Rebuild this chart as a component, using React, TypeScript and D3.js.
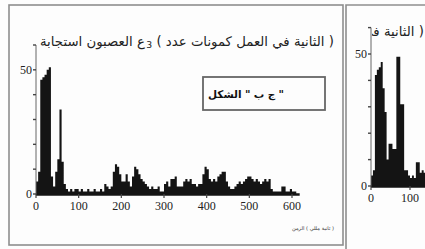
import * as d3 from "d3";
import { useEffect, useRef } from "react";

// spikes per 5 ms bin
const binMs = 5;
const mainCounts = [
  5, 9, 46, 47, 48, 50, 51, 7, 3, 9, 14, 34, 13, 4, 2, 1, 2, 1, 2, 2,
  1, 2, 1, 1, 2, 1, 1, 2, 1, 1, 2, 1, 4, 3, 2, 3, 9, 12, 11, 8,
  5, 5, 8, 5, 3, 7, 11, 10, 8, 6, 5, 4, 3, 2, 3, 2, 2, 3, 1, 1,
  4, 5, 3, 6, 6, 7, 3, 3, 3, 5, 6, 5, 6, 4, 4, 3, 4, 4, 8, 11,
  10, 6, 5, 6, 5, 7, 8, 9, 9, 5, 3, 2, 2, 3, 4, 5, 4, 5, 6, 7,
  7, 6, 5, 6, 5, 4, 5, 6, 5, 6, 2, 1, 1, 1, 1, 3, 3, 1, 1, 2,
  1, 1,
];
const insetCounts = [
  4, 6, 42, 44, 45, 47, 37, 28, 10, 16, 16, 14, 14, 49, 49, 31, 31, 6, 6, 4,
  3, 4, 3, 9, 9, 5, 6, 5, 4,
];
const xTicks = [0, 100, 200, 300, 400, 500, 600];
const insetXTicks = [0, 100];
const yTicks = [0, 10, 20, 30, 40, 50, 60];
const yLabels = [0, 50];

// words in the order they are printed, left to right ("_" = subscript)
const titleWords = ["استجابة", "العصبون", "ع", "_3", "(", "عدد", "كمونات", "العمل", "في", "الثانية", ")"];
const insetTitleWords = ["في", "الثانية", ")"];
const figWords = ["الشكل", "\"", "ب", "ج", "\""];
const xLabelWords = ["الزمن", "(", "مللي", "ثانية", ")"];

type Sel = d3.Selection<SVGGElement, unknown, null, undefined>;

export default function App() {
  const ref = useRef<SVGSVGElement>(null);

  useEffect(() => {
    if (!ref.current) return;
    const svg = d3.select(ref.current);
    svg.selectAll("*").remove();

    const W = 425;
    const H = 249;
    const ink = "#141414";
    const frame = "#8e8e8e";
    const serif = "'Liberation Serif', 'Times New Roman', serif";
    const arabic = "'DejaVu Sans', sans-serif";

    svg.append("rect").attr("width", W).attr("height", H).attr("fill", "#fdfdfd");

    const defs = svg.append("defs");
    defs.append("clipPath").attr("id", "insetClip")
      .append("rect").attr("x", 372).attr("y", 0).attr("width", W - 372).attr("height", H);

    // scan frames
    svg.append("rect")
      .attr("x", 9).attr("y", 5).attr("width", 334).attr("height", 240)
      .attr("fill", "none").attr("stroke", frame).attr("stroke-width", 1.6);
    svg.append("path")
      .attr("d", `M346,${H} V5 H${W}`)
      .attr("fill", "none").attr("stroke", frame).attr("stroke-width", 1.6);

    // lay words out one by one so the printed left-to-right order is kept
    const wordRow = (
      parent: Sel,
      words: string[],
      opts: { x: number; y: number; width?: number; scale?: number; size: number; anchor?: "start" | "end"; weight?: number; fill?: string },
    ) => {
      const g = parent.append("g");
      const items = words.map(w => {
        const sub = w.startsWith("_");
        const t = g.append("text")
          .attr("font-family", arabic)
          .attr("font-weight", opts.weight ?? 400)
          .attr("fill", opts.fill ?? "#222")
          .attr("font-size", sub ? opts.size * 0.7 : opts.size)
          .text(sub ? w.slice(1) : w);
        return { t, sub, w: t.node()!.getComputedTextLength() };
      });
      const gap = opts.size * 0.32;
      const subGap = opts.size * 0.1;
      const total = d3.sum(items, (d, i) => d.w + (i > 0 ? (d.sub ? subGap : gap) : 0));
      const k = opts.scale ?? (opts.width ? opts.width / total : 1);
      let cx = opts.anchor === "end" ? opts.x - total * k : opts.x;
      items.forEach((d, i) => {
        if (i > 0) cx += (d.sub ? subGap : gap) * k;
        d.t.attr("font-size", (d.sub ? opts.size * 0.7 : opts.size) * k)
          .attr("x", cx)
          .attr("y", opts.y + (d.sub ? 2 : 0));
        cx += d.w * k;
      });
      return { g, k };
    };

    const drawPanel = (
      counts: number[],
      x: d3.ScaleLinear<number, number>,
      y: d3.ScaleLinear<number, number>,
      ticks: number[],
      xEnd: number,
    ) => {
      const g = svg.append("g");
      const pts = counts.map((v, i) => ({ t: i * binMs, v }));
      pts.push({ t: counts.length * binMs, v: counts[counts.length - 1] });

      const area = d3.area<{ t: number; v: number }>()
        .x(d => x(d.t))
        .y0(y(0))
        .y1(d => y(d.v))
        .curve(d3.curveStepAfter);

      g.append("path").attr("d", area(pts)).attr("fill", ink);

      // axis base line
      g.append("line")
        .attr("x1", x(0)).attr("x2", x(xEnd))
        .attr("y1", y(0) + 0.5).attr("y2", y(0) + 0.5)
        .attr("stroke", ink).attr("stroke-width", 2.4);

      // y axis
      g.append("line")
        .attr("x1", x(0)).attr("x2", x(0))
        .attr("y1", y(0)).attr("y2", y(60))
        .attr("stroke", "#666").attr("stroke-width", 1);
      g.selectAll(".ytick").data(yTicks).join("line")
        .attr("x1", x(0) - 3).attr("x2", x(0))
        .attr("y1", d => y(d)).attr("y2", d => y(d))
        .attr("stroke", "#444").attr("stroke-width", 1.4);
      g.selectAll(".ylab").data(yLabels).join("text")
        .attr("x", x(0) - 4)
        .attr("y", d => y(d) + 4)
        .attr("text-anchor", "end")
        .attr("font-family", serif)
        .attr("font-size", 12)
        .attr("fill", "#222")
        .text(d => d);

      // x ticks
      g.selectAll(".xtick").data(ticks).join("line")
        .attr("x1", d => x(d)).attr("x2", d => x(d))
        .attr("y1", y(0)).attr("y2", y(0) + 4)
        .attr("stroke", "#444").attr("stroke-width", 1.2);
      g.selectAll(".xlab").data(ticks).join("text")
        .attr("x", d => x(d))
        .attr("y", y(0) + 16)
        .attr("text-anchor", "middle")
        .attr("font-family", serif)
        .attr("font-size", 12)
        .attr("fill", "#222")
        .text(d => d);
    };

    const root = svg.append("g") as unknown as Sel;

    // main panel
    const x = d3.scaleLinear().domain([0, 600]).range([36, 292]);
    const y = d3.scaleLinear().domain([0, 60]).range([194, 45]);
    drawPanel(mainCounts, x, y, xTicks, 618);

    const title = wordRow(root, titleWords, { x: 40, y: 46, width: 294, size: 9 });

    // figure label box
    svg.append("rect")
      .attr("x", 203).attr("y", 77).attr("width", 122).attr("height", 33)
      .attr("fill", "none").attr("stroke", "#666").attr("stroke-width", 1.8);
    wordRow(root, figWords, { x: 208, y: 98, width: 76, size: 12, weight: 700, fill: "#111" });

    wordRow(root, xLabelWords, { x: 292, y: 230, width: 42, size: 8, fill: "#333" });

    // second panel (cut off at the right edge)
    const x2 = d3.scaleLinear().domain([0, 600]).range([371, 605]);
    const y2 = d3.scaleLinear().domain([0, 60]).range([186, 27.6]);
    drawPanel(insetCounts, x2, y2, insetXTicks, 600);

    const t2 = wordRow(root, insetTitleWords, { x: 424, y: 36, scale: title.k, size: 9, anchor: "end" });
    t2.g.attr("clip-path", "url(#insetClip)");
  }, []);

  return (
    <svg
      ref={ref}
      width={425}
      height={249}
      style={{ position: "absolute", left: 0, top: 0, display: "block" }}
    />
  );
}
